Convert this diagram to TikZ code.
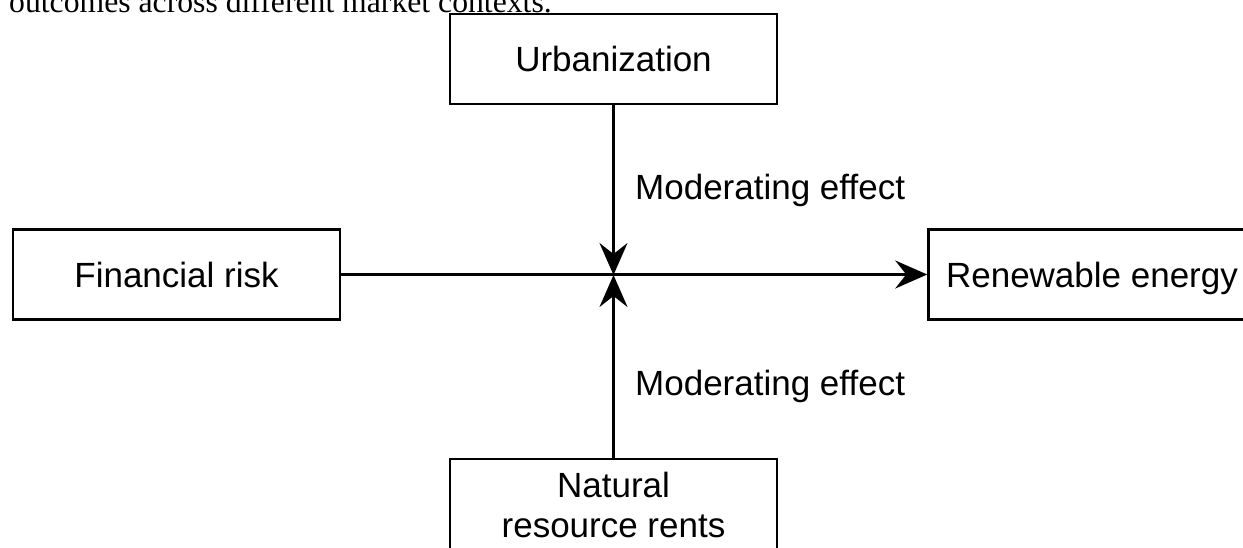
\documentclass[tikz,border=0pt]{standalone}
\usepackage{fontspec}
\setmainfont{Liberation Serif}
\newfontfamily\diagfont{Liberation Sans}
\usetikzlibrary{arrows.meta}

\tikzset{
	box/.style={draw, line width=2.5pt, minimum width=327pt, minimum height=90pt, inner sep=0pt, font=\diagfont\fontsize{35}{40}\selectfont},
	oneline/.style={box, text height=25.5pt, text depth=0pt},
	lab/.style={anchor=base west, inner sep=0pt, font=\diagfont\fontsize{35}{40}\selectfont},
	link/.style={line width=2.6pt, -{Stealth[length=32pt, width=28pt, inset=11pt]}}
}

\begin{document}
\begin{tikzpicture}[x=1pt, y=-1pt]
	
	\useasboundingbox (0,0) rectangle (1243,547);
	\clip (0,0) rectangle (1243,547);
	
	\node[anchor=base west, inner sep=0pt, font=\fontsize{31.7}{38}\selectfont] (cap) at (9,12) {outcomes across different market contexts.};
	
	\coordinate (c) at (613.5,275);
	\node[oneline] (urb) at (613.5,59) {Urbanization};
	\node[oneline] (fin) at (176.5,274.5) {Financial risk};
	\node[oneline] (ren) at (1092,274.5) {Renewable energy};
	\node[box, align=center, minimum height=91pt] (nat) at (613.5,504.5) {Natural\\resource rents};
	
	\draw[link] (fin.east) -- (ren.west);
	\draw[link] (urb.south) -- (c);
	\draw[link] (nat.north) -- (c);
	
	\node[lab] (m1) at (635,199) {Moderating effect};
	\node[lab] (m2) at (635,395) {Moderating effect};
	
\end{tikzpicture}
\end{document}
